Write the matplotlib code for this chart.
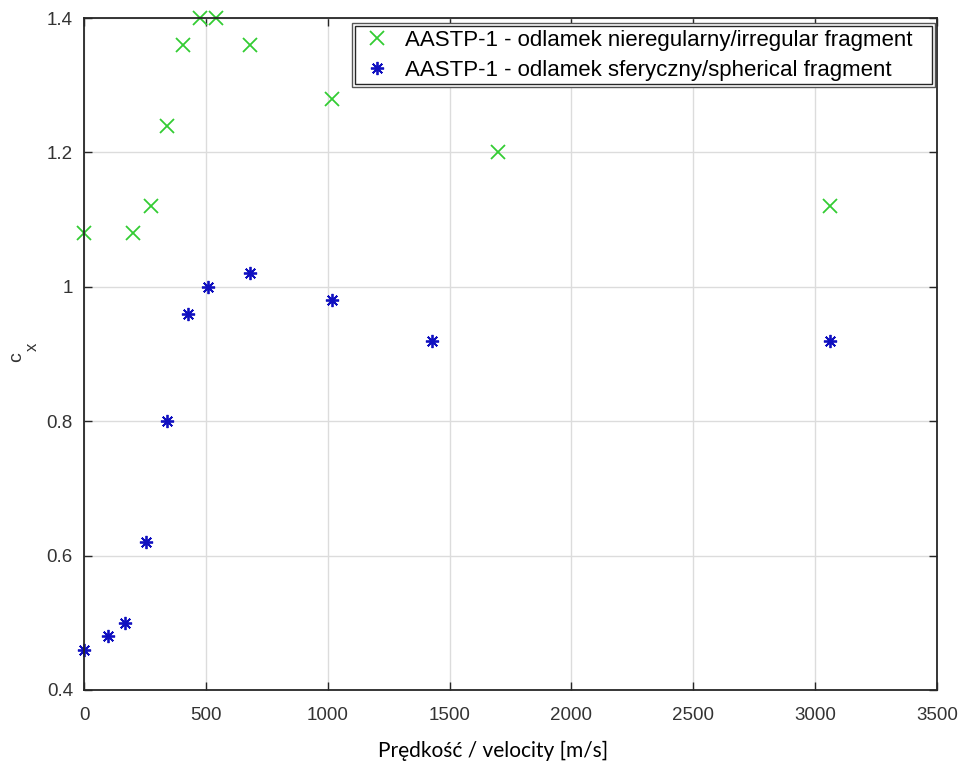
import numpy as np
import matplotlib
matplotlib.use('Agg')
import matplotlib.pyplot as plt
from matplotlib.patches import Rectangle

# irregular fragment (green x)
v_irr = [0, 200, 273, 340, 405, 475, 543, 680, 1018, 1700, 3060]
cx_irr = [1.08, 1.08, 1.12, 1.24, 1.36, 1.40, 1.40, 1.36, 1.28, 1.20, 1.12]

# spherical fragment (blue asterisk)
v_sph = [0, 98, 168, 253, 340, 425, 508, 680, 1018, 1430, 3060]
cx_sph = [0.46, 0.48, 0.50, 0.62, 0.80, 0.96, 1.00, 1.02, 0.98, 0.92, 0.92]

xticks = [0, 500, 1000, 1500, 2000, 2500, 3000, 3500]
yticks = [0.4, 0.6, 0.8, 1.0, 1.2, 1.4]
yticklabels = ['0.4', '0.6', '0.8', '1', '1.2', '1.4']

lab_irr = 'AASTP-1 - odlamek nieregularny/irregular fragment'
lab_sph = 'AASTP-1 - odlamek sferyczny/spherical fragment'

DARK = '#262626'
TXT = '#333333'
W, H = 960, 764
plt.rcParams['font.family'] = ['Liberation Sans', 'DejaVu Sans']

fig = plt.figure(figsize=(W / 100, H / 100), dpi=100)
ax = fig.add_axes([0.0875, 0.0969, 0.8885, 0.8795])

ax.plot(v_irr, cx_irr, linestyle='none', marker='x', color='#33cc33',
        markersize=10, markeredgewidth=1.3, label=lab_irr, clip_on=False)
ax.plot(v_sph, cx_sph, linestyle='none', marker=(8, 2, 0), color='#1010c0',
        markersize=9.5, markeredgewidth=1.3, label=lab_sph, clip_on=False)

ax.set_xlim(0, 3500)
ax.set_ylim(0.4, 1.4)
ax.set_xticks(xticks)
ax.set_yticks(yticks)
ax.set_yticklabels(yticklabels)
ax.tick_params(direction='in', length=6, width=1, top=True, right=True,
               labelsize=13.5, colors=DARK)
ax.tick_params(axis='x', pad=12)
ax.tick_params(axis='y', pad=8)
for t in ax.get_xticklabels() + ax.get_yticklabels():
    t.set_color(TXT)
ax.grid(True, color='#dcdcdc', linewidth=1)
ax.set_axisbelow(True)
for s in ax.spines.values():
    s.set_color(DARK)
    s.set_linewidth(1.3)

# y label "c" with a MATLAB-like low subscript "x"
ax.set_ylabel('c', fontsize=14, color=TXT)
ax.yaxis.set_label_coords(-0.0739, 0.4948)
ax.yaxis.label.set_va('baseline')
ax.text(-0.0551, 0.5104, 'x', fontsize=12, color=TXT, rotation=90,
        rotation_mode='anchor', ha='center', va='baseline',
        transform=ax.transAxes, clip_on=False)

ax.set_xlabel('Prędkość / velocity [m/s]', fontsize=15, family=['Lato', 'DejaVu Sans'])
ax.xaxis.set_label_coords(0.4795, -0.0997)
ax.xaxis.label.set_va('baseline')

# legend entries without frame, frame drawn MATLAB-style (double line) below
leg = ax.legend(loc='upper right', bbox_to_anchor=((935 - 16 - 84) / 853, 0.9926),
                fontsize=16, frameon=False, borderaxespad=0, handletextpad=0.6,
                borderpad=0.3, labelspacing=0.4, handlelength=1.3)

fig.canvas.draw()
bb = leg.get_window_extent()
x0, x1 = bb.x0 - 4, bb.x1 + 16
y0, y1 = bb.y0, bb.y1
ax.add_patch(Rectangle((x0 / W, y0 / H), (x1 - x0) / W, (y1 - y0) / H,
                       transform=fig.transFigure, facecolor='white',
                       edgecolor='#555555', linewidth=1.0, zorder=4.5, clip_on=False))
ax.add_patch(Rectangle(((x0 + 3) / W, (y0 + 3) / H), (x1 - x0 - 6) / W, (y1 - y0 - 6) / H,
                       transform=fig.transFigure, fill=False,
                       edgecolor=DARK, linewidth=1.0, zorder=4.6, clip_on=False))

fig.savefig('out.png', dpi=100)
